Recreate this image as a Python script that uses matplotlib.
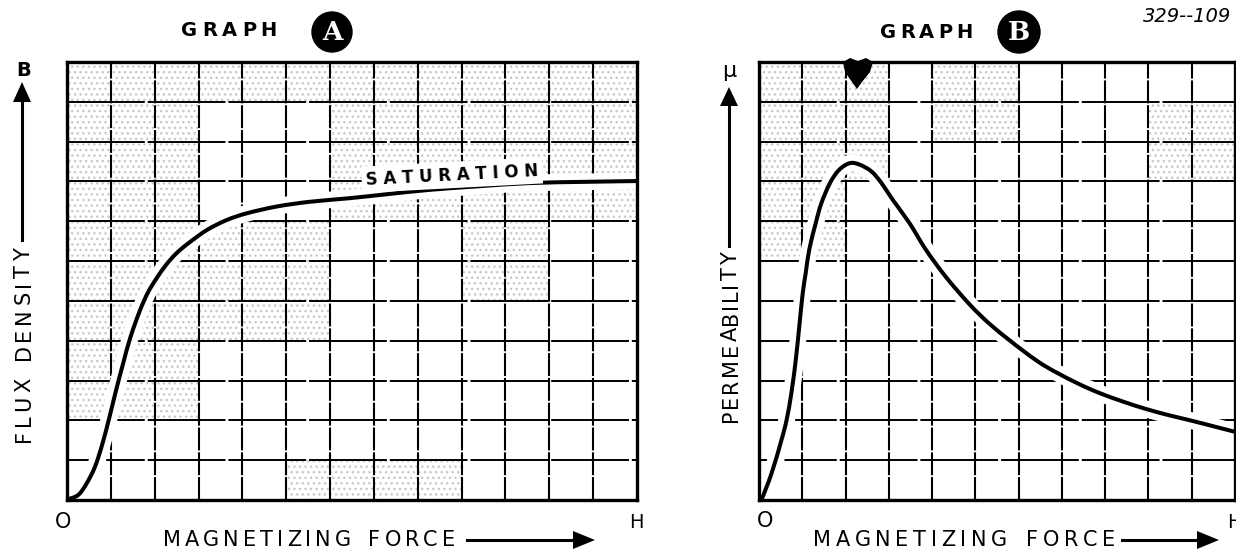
import matplotlib
matplotlib.use("Agg")
import matplotlib.pyplot as plt
from matplotlib.transforms import Affine2D
from matplotlib.font_manager import FontProperties
from matplotlib.patches import Polygon, Circle, Rectangle, PathPatch
from matplotlib.lines import Line2D
from matplotlib.path import Path
import matplotlib.patheffects as pe

# ---------------- data (grid units) ----------------
a_x = [0.00, 0.03, 0.26, 0.45, 0.64, 0.81, 0.97, 1.12, 1.28, 1.45, 1.66, 1.85, 2.05, 2.27,
       2.50, 2.77, 3.19, 3.64, 4.10, 4.78, 5.54, 6.45, 7.30, 8.28, 9.40, 10.56, 11.80, 13.00]
a_y = [0.00, 0.02, 0.13, 0.42, 0.84, 1.42, 2.09, 2.76, 3.43, 4.10, 4.75, 5.22, 5.58, 5.92,
       6.20, 6.45, 6.78, 7.03, 7.20, 7.37, 7.49, 7.58, 7.68, 7.79, 7.88, 7.96, 7.99, 8.01]

b_x = [0.00, 0.06, 0.29, 0.52, 0.64, 0.75, 0.85, 0.93, 1.01, 1.08, 1.16, 1.31, 1.44, 1.64,
       1.85, 2.10, 2.33, 2.60, 2.83, 3.09, 3.48, 3.86, 4.32, 4.86, 5.32, 5.78, 6.09, 6.47,
       6.86, 7.40, 7.86, 8.39, 8.93, 9.47, 9.93, 10.47, 10.97]
b_y = [0.00, 0.02, 0.67, 1.51, 2.02, 2.70, 3.52, 4.35, 5.19, 5.70, 6.28, 6.95, 7.45, 7.96,
       8.29, 8.46, 8.42, 8.25, 7.96, 7.54, 6.95, 6.28, 5.60, 4.92, 4.43, 4.02, 3.76, 3.46,
       3.21, 2.91, 2.69, 2.48, 2.29, 2.13, 2.01, 1.86, 1.72]

a_cols, a_rows = 13, 11
b_cols, b_rows = 11, 11

title_a = "GRAPH"
title_b = "GRAPH"
badge_a = "A"
badge_b = "B"
ylabel_a = "FLUX DENSITY"
ylabel_b = "PERMEABILITY"
xlabel = "MAGNETIZING FORCE"
sym_a = "B"
sym_b = "\u03bc"
origin_label = "O"
end_label = "H"
saturation_label = "SATURATION"
figure_code = "329--109"

# stippled cells (x0, y0, w, h) in grid units
stipple_a = [(0, 2, 3, 8), (0, 10, 13, 1), (6, 7, 7, 3), (3, 4, 3, 3), (5, 0, 4, 1), (9, 5, 2, 2)]
stipple_b = [(0, 10, 3, 1), (0, 6, 2, 4), (2, 8, 1, 2), (4, 9, 2, 2), (9, 8, 2, 2)]

# ---------------- figure ----------------
W, H = 1236, 553
fig = plt.figure(figsize=(W / 100, H / 100), dpi=100)
fig.patch.set_facecolor("white")
pix = Affine2D().scale(1, -1).translate(0, H)  # image pixel coords -> display
renderer = fig.canvas.get_renderer()


def add_axes_px(x0, y0, x1, y1):
    return fig.add_axes([x0 / W, (H - y1) / H, (x1 - x0) / W, (y1 - y0) / H])


def smooth_path(xs, ys):
    pts = list(zip(xs, ys))
    n = len(pts)
    verts = [pts[0]]
    codes = [Path.MOVETO]
    for i in range(n - 1):
        p0 = pts[i - 1] if i > 0 else pts[i]
        p1 = pts[i]
        p2 = pts[i + 1]
        p3 = pts[i + 2] if i + 2 < n else pts[i + 1]
        c1 = (p1[0] + (p2[0] - p0[0]) / 6, p1[1] + (p2[1] - p0[1]) / 6)
        c2 = (p2[0] - (p3[0] - p1[0]) / 6, p2[1] - (p3[1] - p1[1]) / 6)
        verts += [c1, c2, p2]
        codes += [Path.CURVE4] * 3
    return Path(verts, codes)


def grid_panel(ax, ncols, nrows, stipple, xs, ys):
    ax.set_xlim(0, ncols)
    ax.set_ylim(0, nrows)
    ax.set_xticks([])
    ax.set_yticks([])
    for s in ax.spines.values():
        s.set_linewidth(2.4)
        s.set_color("black")
        s.set_zorder(4)
    for (x0, y0, w, h) in stipple:
        ax.add_patch(Rectangle((x0, y0), w, h, fill=False, hatch="...",
                               edgecolor="#c8c8c8", lw=0, zorder=0.5))
    for i in range(1, ncols):
        ax.axvline(i, color="black", lw=1.5, ls=(0, (11, 0.9)), zorder=1)
    for j in range(1, nrows):
        ax.axhline(j, color="black", lw=1.4, ls=(0, (40, 1.5)), zorder=1)
    patch = PathPatch(smooth_path(xs, ys), fill=False, edgecolor="black", lw=2.9,
                      capstyle="round", joinstyle="round", zorder=3,
                      path_effects=[pe.Stroke(linewidth=12, foreground="white"), pe.Normal()])
    ax.add_patch(patch)


def spaced(s, xa, xb, yc, size, weight="normal", vertical=False, xc=None):
    fp = FontProperties(family="DejaVu Sans", size=size, weight=weight)
    space_w = 0.45 * size * 100 / 72
    widths = []
    for c in s:
        if c == " ":
            widths.append(space_w)
        else:
            widths.append(renderer.get_text_width_height_descent(c, fp, ismath=False)[0])
    span = abs(xb - xa)
    track = (span - sum(widths)) / (len(s) - 1)
    pos = xa
    for c, w in zip(s, widths):
        if c != " ":
            if vertical:
                fig.text(xc, pos - w / 2, c, transform=pix, fontproperties=fp,
                         rotation=90, ha="center", va="center")
            else:
                fig.text(pos + w / 2, yc, c, transform=pix, fontproperties=fp,
                         ha="center", va="center")
        pos = pos - (w + track) if vertical else pos + (w + track)


def line_px(pts, lw=2.2):
    xs, ys = zip(*pts)
    fig.add_artist(Line2D(xs, ys, transform=pix, color="black", lw=lw))


def tri_px(pts):
    fig.add_artist(Polygon(pts, closed=True, transform=pix, color="black", lw=0))


def badge(cx, cy, r, letter):
    fig.add_artist(Circle((cx, cy), r, transform=pix, color="black"))
    fig.text(cx, cy + 1, letter, transform=pix, color="white", fontsize=19,
             family="DejaVu Serif", weight="bold", ha="center", va="center")


LBL = 15

# ---------------- Graph A ----------------
axA = add_axes_px(67, 62, 637, 500)
grid_panel(axA, a_cols, a_rows, stipple_a, a_x, a_y)
spaced(title_a, 181, 277, 30, 14, weight="bold")
badge(332, 32, 20, badge_a)
fig.text(24, 70, sym_a, transform=pix, fontsize=14, weight="bold", ha="center", va="center")
tri_px([(22, 82), (13, 102), (31, 102)])
line_px([(22, 100), (22, 240)])
spaced(ylabel_a, 442, 248, None, LBL, vertical=True, xc=24)
fig.text(63, 522, origin_label, transform=pix, fontsize=15, ha="center", va="center")
spaced(xlabel, 163, 455, 540, LBL)
line_px([(467, 540), (576, 540)])
tri_px([(595, 540), (573, 531), (573, 549)])
fig.text(636, 522, end_label, transform=pix, fontsize=14, ha="center", va="center")

# SATURATION label, slightly rotated, white background
sat = fig.text(452, 175, "S A T U R A T I O N", transform=pix, rotation=3.0,
               ha="center", va="center", fontsize=12, weight="bold",
               bbox=dict(boxstyle="square,pad=0.25", fc="white", ec="none"), zorder=2)

# ---------------- Graph B ----------------
axB = add_axes_px(759, 62, 1235, 500)
grid_panel(axB, b_cols, b_rows, stipple_b, b_x, b_y)
spaced(title_b, 880, 972, 32, 14, weight="bold")
badge(1019, 32, 21, badge_b)
fig.text(1143, 17, figure_code, transform=pix, fontsize=14, style="italic",
         ha="left", va="center")
fig.text(729, 71, sym_b, transform=pix, fontsize=16, ha="center", va="center")
tri_px([(729, 87), (720, 106), (738, 106)])
line_px([(729, 104), (729, 246)])
spaced(ylabel_b, 422, 252, None, LBL, vertical=True, xc=731)
fig.text(765, 521, origin_label, transform=pix, fontsize=15, ha="center", va="center")
spaced(xlabel, 813, 1115, 540, LBL)
line_px([(1122, 540), (1200, 540)])
tri_px([(1219, 540), (1197, 531), (1197, 549)])
fig.text(1227, 522, end_label, transform=pix, fontsize=14, ha="left", va="center")

# ink blot on graph B top edge
fig.add_artist(Polygon([(843, 62), (850, 58), (858, 61), (866, 58), (873, 62), (870, 72),
                        (862, 82), (857, 89), (852, 82), (845, 72)],
                       closed=True, transform=pix, color="black", lw=0, zorder=5))

fig.savefig("out.png", dpi=100, facecolor="white")
